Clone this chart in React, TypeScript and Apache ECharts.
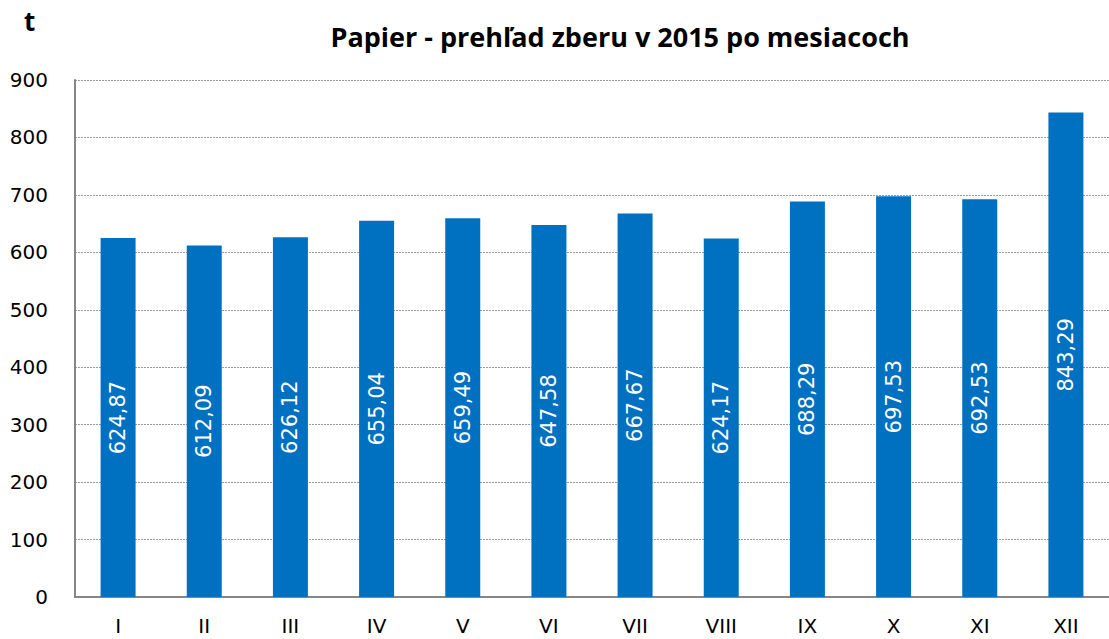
import React, { useEffect, useRef } from "react";
import * as echarts from "echarts";

const months = ["I", "II", "III", "IV", "V", "VI", "VII", "VIII", "IX", "X", "XI", "XII"];
const values = [624.87, 612.09, 626.12, 655.04, 659.49, 647.58, 667.67, 624.17, 688.29, 697.53, 692.53, 843.29];
const titleText = "Papier - prehľad zberu v 2015 po mesiacoch";
const unitText = "t";

const FONT = "'DejaVu Sans', sans-serif";
const TFONT = "'Open Sans', sans-serif";

export default function App() {
  const ref = useRef<HTMLDivElement>(null);
  useEffect(() => {
    if (!ref.current) return;
    const chart = echarts.init(ref.current, undefined, { renderer: "svg" });
    chart.setOption({
      animation: false,
      backgroundColor: "#ffffff",
      textStyle: { fontFamily: FONT },
      title: {
        text: titleText,
        left: 615,
        textAlign: "center",
        top: 18,
        textStyle: { fontSize: 27, fontWeight: "bold", color: "#000", fontFamily: TFONT },
      },
      graphic: [
        {
          type: "text",
          left: 24,
          top: 8,
          style: { text: unitText, fontSize: 26, fontWeight: "bold", fill: "#000", fontFamily: TFONT },
        },
      ],
      grid: { left: 75, right: -10, top: 80, bottom: 42, containLabel: false },
      xAxis: {
        type: "category",
        data: months,
        axisLine: { show: true, lineStyle: { color: "#868686", width: 2 } },
        axisTick: { show: false },
        axisLabel: { fontSize: 20, color: "#000", margin: 19, fontFamily: FONT },
      },
      yAxis: {
        type: "value",
        min: 0,
        max: 900,
        interval: 100,
        axisLine: { show: true, lineStyle: { color: "#868686", width: 2 } },
        axisTick: { show: false },
        axisLabel: { fontSize: 20, color: "#000", margin: 27, fontFamily: FONT },
        splitLine: { show: true, lineStyle: { color: "#9a9a9a", type: [2, 1], width: 1 } },
      },
      series: [
        {
          type: "bar",
          data: values,
          barWidth: 35,
          itemStyle: { color: "#0070C0" },
          label: {
            show: true,
            position: "inside",
            rotate: 90,
            color: "#ffffff",
            fontSize: 21,
            fontFamily: FONT,
            formatter: (p: any) => p.value.toFixed(2).replace(".", ","),
          },
        },
      ],
    });
    return () => chart.dispose();
  }, []);
  return (
    <div
      ref={ref}
      style={{ position: "fixed", left: 0, top: 0, width: 1109, height: 639, background: "#fff" }}
    />
  );
}
